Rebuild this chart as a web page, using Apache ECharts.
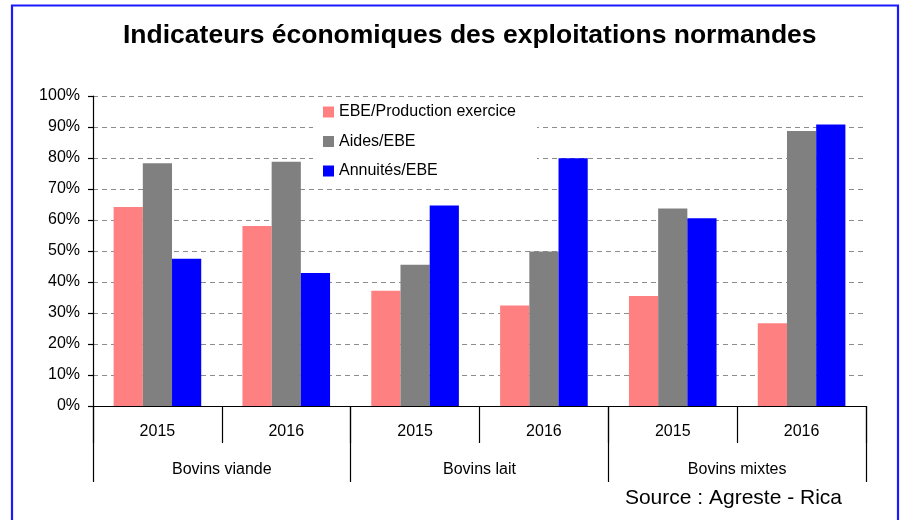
<!DOCTYPE html>
<html>
<head>
<meta charset="utf-8">
<script src="https://cdn.jsdelivr.net/npm/echarts@6/dist/echarts.min.js"></script>
<style>
html,body{margin:0;padding:0;background:#fff;}
#chart{width:903px;height:520px;}
</style>
</head>
<body>
<div id="chart"></div>
<script>
var titleText = 'Indicateurs économiques des exploitations normandes';
var sourceText = 'Source : Agreste - Rica';
var years = ['2015', '2016', '2015', '2016', '2015', '2016'];
var groups = ['Bovins viande', 'Bovins lait', 'Bovins mixtes'];
var seriesNames = ['EBE/Production exercice', 'Aides/EBE', 'Annuités/EBE'];
var ebeProduction = [64.2, 58.1, 37.2, 32.4, 35.5, 26.7];
var aidesEbe = [78.3, 78.8, 45.6, 49.8, 63.7, 88.7];
var annuitesEbe = [47.5, 42.9, 64.7, 79.9, 60.6, 90.8];
var colors = ['#FF8080', '#808080', '#0000FF'];

var font = 'Arial, "Liberation Sans", sans-serif';
var chart = echarts.init(document.getElementById('chart'), null, {renderer: 'canvas'});

function barSeries(name, data, color) {
  return {
    name: name,
    type: 'bar',
    data: data,
    xAxisIndex: 0,
    barGap: 0,
    barCategoryGap: '32%',
    itemStyle: {color: color},
    emphasis: {disabled: true}
  };
}

chart.setOption({
  animation: false,
  backgroundColor: '#fff',
  title: {
    text: titleText,
    left: 123,
    top: 22,
    padding: 0,
    textStyle: {fontFamily: font, fontSize: 26.5, fontWeight: 'bold', color: '#000'}
  },
  graphic: [
    {
      type: 'rect',
      shape: {x: 12, y: 5.5, width: 886, height: 540},
      style: {fill: 'none', stroke: '#1a1aff', lineWidth: 2.2},
      silent: true
    },
    {
      type: 'text',
      right: 61,
      top: 488,
      style: {text: sourceText, font: '21px Arial, "Liberation Sans", sans-serif', fill: '#000'}
    }
  ],
  legend: {
    orient: 'vertical',
    left: 313,
    top: 99,
    padding: [5, 21, 6, 10],
    backgroundColor: '#fff',
    itemWidth: 11,
    itemHeight: 11,
    itemGap: 13.5,
    icon: 'rect',
    data: seriesNames,
    textStyle: {fontFamily: font, fontSize: 16, lineHeight: 16, color: '#000'}
  },
  grid: {left: 93, right: 37, top: 96, bottom: 114, containLabel: false},
  xAxis: [
    {
      type: 'category',
      position: 'bottom',
      data: years,
      axisLine: {show: true, lineStyle: {color: '#000', width: 1.2}},
      axisTick: {show: true, interval: 0, length: 37, lineStyle: {color: '#000', width: 1.2}},
      axisLabel: {interval: 0, margin: 18, fontFamily: font, fontSize: 16, color: '#000', lineHeight: 16}
    },
    {
      type: 'category',
      position: 'bottom',
      data: groups,
      axisLine: {show: false},
      axisTick: {show: true, interval: 0, length: 76, lineStyle: {color: '#000', width: 1.2}},
      axisLabel: {interval: 0, margin: 56, fontFamily: font, fontSize: 16, color: '#000', lineHeight: 16}
    }
  ],
  yAxis: {
    type: 'value',
    min: 0,
    max: 100,
    interval: 10,
    axisLine: {show: true, lineStyle: {color: '#000', width: 1.2}},
    axisTick: {show: true, length: 5, lineStyle: {color: '#000', width: 1.2}},
    axisLabel: {formatter: '{value}%', margin: 13, fontFamily: font, fontSize: 16, color: '#000'},
    splitLine: {show: true, lineStyle: {color: '#8c8c8c', type: [5, 4], width: 1}}
  },
  series: [
    barSeries(seriesNames[0], ebeProduction, colors[0]),
    barSeries(seriesNames[1], aidesEbe, colors[1]),
    barSeries(seriesNames[2], annuitesEbe, colors[2])
  ]
});
</script>
</body>
</html>
